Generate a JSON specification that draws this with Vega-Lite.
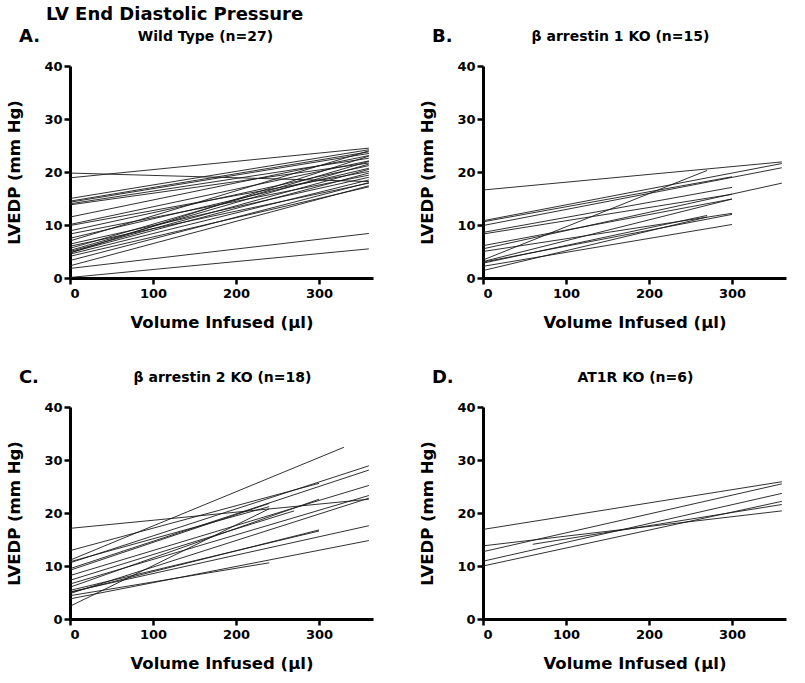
{
  "$schema": "https://vega.github.io/schema/vega-lite/v6.json",
  "padding": {"left": 6, "top": 6, "right": 5, "bottom": 5},
  "background": "white",
  "spacing": 38,
  "title": {"text": "LV End Diastolic Pressure", "anchor": "start", "frame": "bounds", "dx": 39, "fontSize": 18, "fontWeight": "bold", "font": "DejaVu Sans", "color": "black", "offset": 4},
  "config": {
    "view": {"stroke": null},
    "font": "DejaVu Sans",
    "axis": {"grid": false, "domainColor": "black", "domainWidth": 3, "tickColor": "black", "tickWidth": 2.5, "tickSize": 6, "labelFont": "DejaVu Sans", "labelFontWeight": "bold", "labelFontSize": 13, "labelColor": "black", "titleFont": "DejaVu Sans", "titleFontWeight": "bold", "titleFontSize": 16.5, "titleColor": "black"},
    "title": {"font": "DejaVu Sans", "fontWeight": "bold", "color": "black"},
    "concat": {"spacing": 46}
  },
  "data": {"values": [
    {"panel":"A","id":"a1","x":0,"y":19.8},{"panel":"A","id":"a1","x":360,"y":18.2},
    {"panel":"A","id":"a2","x":0,"y":18.9},{"panel":"A","id":"a2","x":360,"y":24.5},
    {"panel":"A","id":"a3","x":0,"y":15.0},{"panel":"A","id":"a3","x":360,"y":24.2},
    {"panel":"A","id":"a4","x":0,"y":14.5},{"panel":"A","id":"a4","x":360,"y":23.8},
    {"panel":"A","id":"a5","x":0,"y":14.3},{"panel":"A","id":"a5","x":360,"y":23.5},
    {"panel":"A","id":"a6","x":0,"y":14.0},{"panel":"A","id":"a6","x":360,"y":22.6},
    {"panel":"A","id":"a7","x":0,"y":13.8},{"panel":"A","id":"a7","x":360,"y":21.7},
    {"panel":"A","id":"a8","x":0,"y":11.5},{"panel":"A","id":"a8","x":360,"y":23.1},
    {"panel":"A","id":"a9","x":0,"y":10.1},{"panel":"A","id":"a9","x":360,"y":22.1},
    {"panel":"A","id":"a10","x":0,"y":9.9},{"panel":"A","id":"a10","x":360,"y":20.1},
    {"panel":"A","id":"a11","x":0,"y":8.9},{"panel":"A","id":"a11","x":360,"y":21.2},
    {"panel":"A","id":"a12","x":0,"y":8.3},{"panel":"A","id":"a12","x":360,"y":19.4},
    {"panel":"A","id":"a13","x":0,"y":7.5},{"panel":"A","id":"a13","x":360,"y":20.7},
    {"panel":"A","id":"a14","x":0,"y":7.0},{"panel":"A","id":"a14","x":360,"y":24.0},
    {"panel":"A","id":"a15","x":0,"y":6.4},{"panel":"A","id":"a15","x":360,"y":19.0},
    {"panel":"A","id":"a16","x":0,"y":6.0},{"panel":"A","id":"a16","x":360,"y":17.9},
    {"panel":"A","id":"a17","x":0,"y":5.6},{"panel":"A","id":"a17","x":360,"y":22.0},
    {"panel":"A","id":"a18","x":0,"y":5.2},{"panel":"A","id":"a18","x":360,"y":21.5},
    {"panel":"A","id":"a19","x":0,"y":5.0},{"panel":"A","id":"a19","x":360,"y":20.5},
    {"panel":"A","id":"a20","x":0,"y":4.8},{"panel":"A","id":"a20","x":360,"y":19.8},
    {"panel":"A","id":"a21","x":0,"y":4.7},{"panel":"A","id":"a21","x":360,"y":23.0},
    {"panel":"A","id":"a22","x":0,"y":4.5},{"panel":"A","id":"a22","x":360,"y":18.5},
    {"panel":"A","id":"a23","x":0,"y":4.1},{"panel":"A","id":"a23","x":360,"y":17.2},
    {"panel":"A","id":"a24","x":0,"y":3.3},{"panel":"A","id":"a24","x":360,"y":18.0},
    {"panel":"A","id":"a25","x":0,"y":2.3},{"panel":"A","id":"a25","x":360,"y":17.4},
    {"panel":"A","id":"a26","x":0,"y":1.8},{"panel":"A","id":"a26","x":360,"y":8.4},
    {"panel":"A","id":"a27","x":0,"y":0.1},{"panel":"A","id":"a27","x":360,"y":5.5},

    {"panel":"B","id":"b1","x":0,"y":16.6},{"panel":"B","id":"b1","x":360,"y":21.9},
    {"panel":"B","id":"b2","x":0,"y":10.8},{"panel":"B","id":"b2","x":360,"y":21.6},
    {"panel":"B","id":"b3","x":0,"y":10.6},{"panel":"B","id":"b3","x":300,"y":19.1},
    {"panel":"B","id":"b4","x":0,"y":9.9},{"panel":"B","id":"b4","x":360,"y":20.8},
    {"panel":"B","id":"b5","x":0,"y":8.6},{"panel":"B","id":"b5","x":300,"y":17.1},
    {"panel":"B","id":"b6","x":0,"y":8.3},{"panel":"B","id":"b6","x":300,"y":15.8},
    {"panel":"B","id":"b7","x":0,"y":6.1},{"panel":"B","id":"b7","x":300,"y":14.9},
    {"panel":"B","id":"b8","x":0,"y":5.5},{"panel":"B","id":"b8","x":360,"y":17.9},
    {"panel":"B","id":"b9","x":0,"y":5.0},{"panel":"B","id":"b9","x":300,"y":12.2},
    {"panel":"B","id":"b10","x":0,"y":3.4},{"panel":"B","id":"b10","x":270,"y":20.3},
    {"panel":"B","id":"b11","x":0,"y":3.1},{"panel":"B","id":"b11","x":300,"y":14.9},
    {"panel":"B","id":"b12","x":0,"y":2.8},{"panel":"B","id":"b12","x":270,"y":11.8},
    {"panel":"B","id":"b13","x":0,"y":2.2},{"panel":"B","id":"b13","x":300,"y":10.1},
    {"panel":"B","id":"b14","x":0,"y":1.4},{"panel":"B","id":"b14","x":270,"y":11.5},
    {"panel":"B","id":"b15","x":0,"y":3.0},{"panel":"B","id":"b15","x":300,"y":12.0},

    {"panel":"C","id":"c1","x":0,"y":17.1},{"panel":"C","id":"c1","x":360,"y":22.6},
    {"panel":"C","id":"c2","x":0,"y":11.1},{"panel":"C","id":"c2","x":330,"y":32.4},
    {"panel":"C","id":"c3","x":0,"y":12.9},{"panel":"C","id":"c3","x":300,"y":25.6},
    {"panel":"C","id":"c4","x":0,"y":10.6},{"panel":"C","id":"c4","x":360,"y":28.9},
    {"panel":"C","id":"c5","x":0,"y":9.5},{"panel":"C","id":"c5","x":360,"y":28.1},
    {"panel":"C","id":"c6","x":0,"y":9.2},{"panel":"C","id":"c6","x":240,"y":21.8},
    {"panel":"C","id":"c7","x":0,"y":8.2},{"panel":"C","id":"c7","x":360,"y":25.2},
    {"panel":"C","id":"c8","x":0,"y":7.3},{"panel":"C","id":"c8","x":270,"y":20.4},
    {"panel":"C","id":"c9","x":0,"y":6.6},{"panel":"C","id":"c9","x":360,"y":23.3},
    {"panel":"C","id":"c10","x":0,"y":6.0},{"panel":"C","id":"c10","x":300,"y":22.6},
    {"panel":"C","id":"c11","x":0,"y":5.4},{"panel":"C","id":"c11","x":300,"y":16.6},
    {"panel":"C","id":"c12","x":0,"y":5.1},{"panel":"C","id":"c12","x":360,"y":17.6},
    {"panel":"C","id":"c13","x":0,"y":5.0},{"panel":"C","id":"c13","x":300,"y":16.8},
    {"panel":"C","id":"c14","x":0,"y":4.4},{"panel":"C","id":"c14","x":240,"y":10.6},
    {"panel":"C","id":"c15","x":0,"y":3.8},{"panel":"C","id":"c15","x":360,"y":14.8},
    {"panel":"C","id":"c16","x":0,"y":2.4},{"panel":"C","id":"c16","x":240,"y":20.8},
    {"panel":"C","id":"c17","x":0,"y":4.8},{"panel":"C","id":"c17","x":360,"y":22.8},
    {"panel":"C","id":"c18","x":0,"y":10.8},{"panel":"C","id":"c18","x":240,"y":21.2},

    {"panel":"D","id":"d1","x":0,"y":16.9},{"panel":"D","id":"d1","x":360,"y":25.9},
    {"panel":"D","id":"d2","x":0,"y":12.7},{"panel":"D","id":"d2","x":360,"y":25.5},
    {"panel":"D","id":"d3","x":0,"y":13.8},{"panel":"D","id":"d3","x":360,"y":20.4},
    {"panel":"D","id":"d4","x":60,"y":14.1},{"panel":"D","id":"d4","x":360,"y":21.6},
    {"panel":"D","id":"d5","x":0,"y":10.9},{"panel":"D","id":"d5","x":360,"y":23.7},
    {"panel":"D","id":"d6","x":0,"y":10.0},{"panel":"D","id":"d6","x":360,"y":22.2}
  ]},
  "vconcat": [
    {"hconcat": [
      {"title": {"text": "A.", "anchor": "start", "frame": "bounds", "dx": 12, "fontSize": 18, "offset": -17},
       "width": 303, "height": 212,
       "transform": [{"filter": "datum.panel === 'A'"}],
       "layer": [
         {"mark": {"type": "line", "stroke": "#1a1a1a", "strokeWidth": 0.9},
          "encoding": {
            "x": {"field": "x", "type": "quantitative", "scale": {"domain": [0, 365], "nice": false}, "axis": {"values": [0, 100, 200, 300], "title": "Volume Infused (μl)", "labelPadding": 3, "titlePadding": 14}},
            "y": {"field": "y", "type": "quantitative", "scale": {"domain": [0, 40], "nice": false}, "axis": {"values": [0, 10, 20, 30, 40], "title": "LVEDP (mm Hg)", "labelPadding": 2, "titlePadding": 21}},
            "detail": {"field": "id"}}},
         {"mark": {"type": "line", "opacity": 0},
          "encoding": {
            "x": {"field": "x", "type": "quantitative", "axis": {"orient": "top", "title": "Wild Type (n=27)", "domain": false, "ticks": false, "labels": false, "titleFontSize": 14, "titlePadding": 23, "titleX": 135, "titleAlign": "center"}},
            "y": {"field": "y", "type": "quantitative"},
            "detail": {"field": "id"}}}
       ],
       "resolve": {"axis": {"x": "independent"}}},
      {"title": {"text": "B.", "anchor": "start", "frame": "bounds", "dx": 12, "fontSize": 18, "offset": -17},
       "width": 303, "height": 212,
       "transform": [{"filter": "datum.panel === 'B'"}],
       "layer": [
         {"mark": {"type": "line", "stroke": "#1a1a1a", "strokeWidth": 0.9},
          "encoding": {
            "x": {"field": "x", "type": "quantitative", "scale": {"domain": [0, 365], "nice": false}, "axis": {"values": [0, 100, 200, 300], "title": "Volume Infused (μl)", "labelPadding": 3, "titlePadding": 14}},
            "y": {"field": "y", "type": "quantitative", "scale": {"domain": [0, 40], "nice": false}, "axis": {"values": [0, 10, 20, 30, 40], "title": "LVEDP (mm Hg)", "labelPadding": 2, "titlePadding": 21}},
            "detail": {"field": "id"}}},
         {"mark": {"type": "line", "opacity": 0},
          "encoding": {
            "x": {"field": "x", "type": "quantitative", "axis": {"orient": "top", "title": "β arrestin 1 KO (n=15)", "domain": false, "ticks": false, "labels": false, "titleFontSize": 14, "titlePadding": 23, "titleX": 137, "titleAlign": "center"}},
            "y": {"field": "y", "type": "quantitative"},
            "detail": {"field": "id"}}}
       ],
       "resolve": {"axis": {"x": "independent"}}}
    ]},
    {"hconcat": [
      {"title": {"text": "C.", "anchor": "start", "frame": "bounds", "dx": 12, "fontSize": 18, "offset": -17},
       "width": 303, "height": 212,
       "transform": [{"filter": "datum.panel === 'C'"}],
       "layer": [
         {"mark": {"type": "line", "stroke": "#1a1a1a", "strokeWidth": 0.9},
          "encoding": {
            "x": {"field": "x", "type": "quantitative", "scale": {"domain": [0, 365], "nice": false}, "axis": {"values": [0, 100, 200, 300], "title": "Volume Infused (μl)", "labelPadding": 3, "titlePadding": 14}},
            "y": {"field": "y", "type": "quantitative", "scale": {"domain": [0, 40], "nice": false}, "axis": {"values": [0, 10, 20, 30, 40], "title": "LVEDP (mm Hg)", "labelPadding": 2, "titlePadding": 21}},
            "detail": {"field": "id"}}},
         {"mark": {"type": "line", "opacity": 0},
          "encoding": {
            "x": {"field": "x", "type": "quantitative", "axis": {"orient": "top", "title": "β arrestin 2 KO (n=18)", "domain": false, "ticks": false, "labels": false, "titleFontSize": 14, "titlePadding": 23, "titleX": 152, "titleAlign": "center"}},
            "y": {"field": "y", "type": "quantitative"},
            "detail": {"field": "id"}}}
       ],
       "resolve": {"axis": {"x": "independent"}}},
      {"title": {"text": "D.", "anchor": "start", "frame": "bounds", "dx": 12, "fontSize": 18, "offset": -17},
       "width": 303, "height": 212,
       "transform": [{"filter": "datum.panel === 'D'"}],
       "layer": [
         {"mark": {"type": "line", "stroke": "#1a1a1a", "strokeWidth": 0.9},
          "encoding": {
            "x": {"field": "x", "type": "quantitative", "scale": {"domain": [0, 365], "nice": false}, "axis": {"values": [0, 100, 200, 300], "title": "Volume Infused (μl)", "labelPadding": 3, "titlePadding": 14}},
            "y": {"field": "y", "type": "quantitative", "scale": {"domain": [0, 40], "nice": false}, "axis": {"values": [0, 10, 20, 30, 40], "title": "LVEDP (mm Hg)", "labelPadding": 2, "titlePadding": 21}},
            "detail": {"field": "id"}}},
         {"mark": {"type": "line", "opacity": 0},
          "encoding": {
            "x": {"field": "x", "type": "quantitative", "axis": {"orient": "top", "title": "AT1R KO (n=6)", "domain": false, "ticks": false, "labels": false, "titleFontSize": 14, "titlePadding": 23, "titleX": 152, "titleAlign": "center"}},
            "y": {"field": "y", "type": "quantitative"},
            "detail": {"field": "id"}}}
       ],
       "resolve": {"axis": {"x": "independent"}}}
    ]}
  ]
}
